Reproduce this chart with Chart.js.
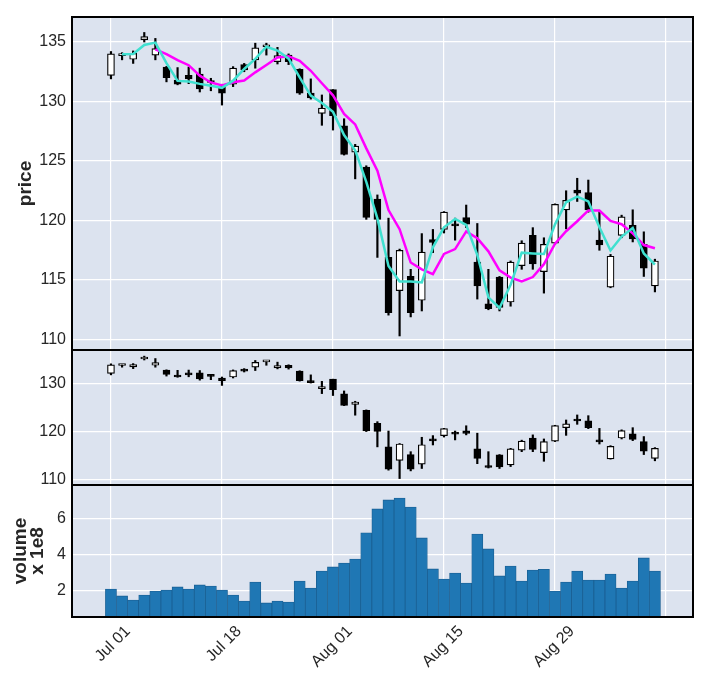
<!DOCTYPE html>
<html>
<head>
<meta charset="utf-8">
<script src="https://cdn.jsdelivr.net/npm/chart.js@4.4.1/dist/chart.umd.min.js"></script>
<style>
  html, body { margin: 0; padding: 0; background: #fff; }
  canvas { display: block; }
</style>
</head>
<body>
<canvas id="chart" width="722" height="674"></canvas>
<script>
// daily OHLC, trading-day index 0..49 (Jul 01 - Sep 12)
const opens = [132.2, 133.85, 133.55, 135.2, 133.9, 132.9, 131.8, 132.2, 132.3, 131.75,
    131.25, 131.45, 133.1, 133.5, 134.6, 133.35, 133.9, 132.7, 130.7, 129.0,
    131.0, 127.95, 125.75, 124.5, 121.8, 116.9, 114.1, 115.3, 113.3, 118.4,
    119.25, 119.65, 120.25, 116.5, 113.0, 115.25, 113.15, 116.2, 118.75, 115.7,
    118.1, 120.9, 122.55, 122.35, 118.35, 114.4, 118.75, 119.6, 118.0, 114.5];
const highs = [134.2, 134.1, 134.25, 135.8, 135.3, 132.95, 132.85, 132.9, 132.8, 131.95,
    131.45, 132.93, 133.2, 134.9, 134.9, 134.55, 134.0, 132.75, 131.9, 130.55,
    131.0, 128.55, 126.4, 124.6, 122.15, 120.2, 117.6, 115.9, 118.9, 119.25,
    120.75, 120.2, 121.3, 119.75, 115.9, 115.3, 116.6, 118.3, 119.4, 118.55,
    121.4, 122.5, 123.55, 123.4, 120.75, 117.15, 120.45, 120.9, 119.05, 116.75];
const lows = [131.9, 133.5, 133.2, 135.0, 133.5, 131.65, 131.4, 131.5, 130.8, 130.9,
    129.7, 131.25, 132.5, 132.8, 133.9, 133.15, 133.1, 130.6, 130.2, 128.0,
    127.6, 125.5, 123.5, 120.1, 116.9, 112.05, 110.3, 111.9, 112.4, 117.3,
    118.95, 118.35, 119.4, 113.4, 112.5, 112.4, 112.8, 115.9, 115.9, 113.9,
    118.0, 119.3, 121.6, 120.7, 117.5, 114.35, 118.55, 118.2, 115.3, 114.0];
const closes = [134.0, 133.95, 134.05, 135.45, 134.45, 132.0, 131.45, 131.9, 131.05, 131.6,
    130.7, 132.8, 132.65, 134.5, 134.7, 133.85, 133.35, 130.7, 130.3, 129.45,
    128.8, 125.55, 126.25, 120.25, 120.1, 112.25, 117.5, 112.25, 117.35, 118.15,
    120.7, 119.55, 119.7, 114.5, 112.6, 112.7, 116.5, 118.1, 116.35, 118.0,
    121.35, 121.7, 122.3, 120.9, 117.95, 117.0, 120.3, 118.45, 116.0, 116.6];
// volume, x 1e8
const volumes = [2.07, 1.69, 1.46, 1.74, 1.96, 2.02, 2.19, 2.07, 2.30, 2.24,
    2.02, 1.74, 1.41, 2.46, 1.30, 1.41, 1.35, 2.52, 2.13, 3.07,
    3.30, 3.52, 3.74, 5.19, 6.52, 7.02, 7.13, 6.63, 4.91, 3.19,
    2.63, 2.96, 2.41, 5.13, 4.30, 2.80, 3.35, 2.52, 3.13, 3.17,
    1.96, 2.46, 3.07, 2.57, 2.57, 2.91, 2.13, 2.52, 3.80, 3.07];
// moving averages as drawn (cyan short, magenta long)
const maShort = [null, 133.98, 134.0, 134.75, 134.95, 133.23, 131.73, 131.68, 131.48, 131.33,
    131.15, 131.75, 132.73, 133.58, 134.6, 134.28, 133.6, 132.03, 130.5, 129.88,
    129.13, 127.18, 125.9, 123.25, 120.18, 116.18, 114.88, 114.88, 114.8, 117.75,
    119.43, 120.13, 119.63, 117.1, 113.55, 112.65, 114.6, 117.3, 117.23, 117.18,
    119.68, 121.53, 122.0, 121.6, 119.43, 117.48, 118.65, 119.38, 117.23, 116.3];
const maLong = [null, null, null, null, 134.38, 133.98, 133.48, 133.05, 132.17, 131.6,
    131.34, 131.61, 131.76, 132.45, 133.07, 133.7, 133.81, 133.42, 132.58, 131.53,
    130.52, 128.96, 128.07, 126.06, 124.19, 120.88, 119.27, 116.47, 115.89, 115.5,
    117.19, 117.6, 119.09, 118.52, 117.41, 115.81, 115.2, 114.88, 115.25, 116.33,
    118.06, 119.1, 119.94, 120.85, 120.84, 119.97, 119.69, 118.92, 117.94, 117.67];

const xTickIdx = [0, 10, 20, 30, 40, 50];
const xTickLabels = ['Jul 01', 'Jul 18', 'Aug 01', 'Aug 15', 'Aug 29', ''];
const priceTicks = [110, 115, 120, 125, 130, 135];
const midTicks = [110, 120, 130];
const volTicks = [2, 4, 6];

const FONT = "'Liberation Sans', Arial, sans-serif";
const TXT = '#262626';

const idx = closes.map((_, i) => i);
const wicks = idx.map(i => ({x: i, y: [lows[i], highs[i]]}));
const bodies = idx.map(i => ({x: i, y: [opens[i], closes[i]]}));
const bodyFill = idx.map(i => closes[i] >= opens[i] ? '#ffffff' : '#000000');

function candleSets(axis) {
    return [{
        type: 'bar', data: bodies, yAxisID: axis, order: 1, grouped: false,
        barThickness: 7, minBarLength: 2,
        backgroundColor: bodyFill, borderColor: '#000', borderWidth: 1.2, borderSkipped: false
    }, {
        type: 'bar', data: wicks, yAxisID: axis, order: 2, grouped: false,
        barThickness: 1.5, backgroundColor: '#000', borderWidth: 0
    }];
}

function yAxis(min, max, ticks, weight, title) {
    return {
        type: 'linear', position: 'left', stack: 'panels', stackWeight: weight,
        min: min, max: max,
        afterBuildTicks: s => { s.ticks = ticks.map(v => ({value: v})); },
        afterFit: s => { s.width = 72; },
        grid: {color: '#ffffff', lineWidth: 1.2, drawTicks: false},
        border: {display: false},
        ticks: {color: TXT, font: {family: FONT, size: 16}, padding: 6},
        title: title
    };
}

const panels = {
    id: 'panels',
    beforeDraw(chart) {
        const {ctx, chartArea: a} = chart;
        ctx.save();
        ctx.fillStyle = '#DCE3EF';
        ctx.fillRect(a.left, a.top, a.width, a.height);
        ctx.restore();
    },
    afterDraw(chart) {
        const {ctx, chartArea: a} = chart;
        ctx.save();
        ctx.strokeStyle = '#000';
        ctx.lineWidth = 2;
        ['yMain', 'yMid', 'yVol'].forEach(id => {
            const s = chart.scales[id];
            ctx.strokeRect(a.left, s.top, a.width, s.bottom - s.top);
        });
        ctx.restore();
    }
};

new Chart(document.getElementById('chart'), {
    type: 'bar',
    data: {
        datasets: [{
            type: 'line', data: idx.map(i => ({x: i, y: maShort[i]})), yAxisID: 'yMain', order: 0,
            borderColor: '#40e0d0', borderWidth: 2.5, pointRadius: 0, tension: 0
        }, {
            type: 'line', data: idx.map(i => ({x: i, y: maLong[i]})), yAxisID: 'yMain', order: 0,
            borderColor: '#ff00ff', borderWidth: 2.5, pointRadius: 0, tension: 0
        },
        ...candleSets('yMain'),
        ...candleSets('yMid'),
        {
            type: 'bar', data: idx.map(i => ({x: i, y: volumes[i]})), yAxisID: 'yVol', order: 3,
            grouped: false, barPercentage: 1, categoryPercentage: 1,
            backgroundColor: '#1f77b4', borderColor: '#1a5f92', borderWidth: 0.8, borderSkipped: false
        }]
    },
    options: {
        responsive: false,
        animation: false,
        devicePixelRatio: 1,
        layout: {padding: {top: 17, right: 29, left: 0, bottom: 0}},
        plugins: {legend: {display: false}, tooltip: {enabled: false}},
        scales: {
            x: {
                type: 'linear', position: 'bottom', min: -3.51, max: 52.43, offset: false,
                afterBuildTicks: s => { s.ticks = xTickIdx.map(v => ({value: v})); },
                afterFit: s => { s.height = 57; },
                grid: {color: '#ffffff', lineWidth: 1.2, drawTicks: false, offset: false},
                border: {display: false},
                ticks: {
                    color: TXT, font: {family: FONT, size: 16}, padding: 5, labelOffset: 17,
                    autoSkip: false, minRotation: 45, maxRotation: 45,
                    callback: v => xTickLabels[xTickIdx.indexOf(v)]
                }
            },
            yVol: yAxis(0.52, 7.85, volTicks, 132, {
                display: true, text: ['volume', 'x 1e8'], color: TXT,
                font: {family: FONT, size: 19, weight: 'bold', lineHeight: 0.9}, padding: {top: 12}
            }),
            yMid: yAxis(108.96, 137.08, midTicks, 135, {display: false}),
            yMain: yAxis(109.12, 137.1, priceTicks, 333, {
                display: true, text: 'price', color: TXT,
                font: {family: FONT, size: 19, weight: 'bold'}, padding: {top: 14}
            })
        }
    },
    plugins: [panels]
});
</script>
</body>
</html>
